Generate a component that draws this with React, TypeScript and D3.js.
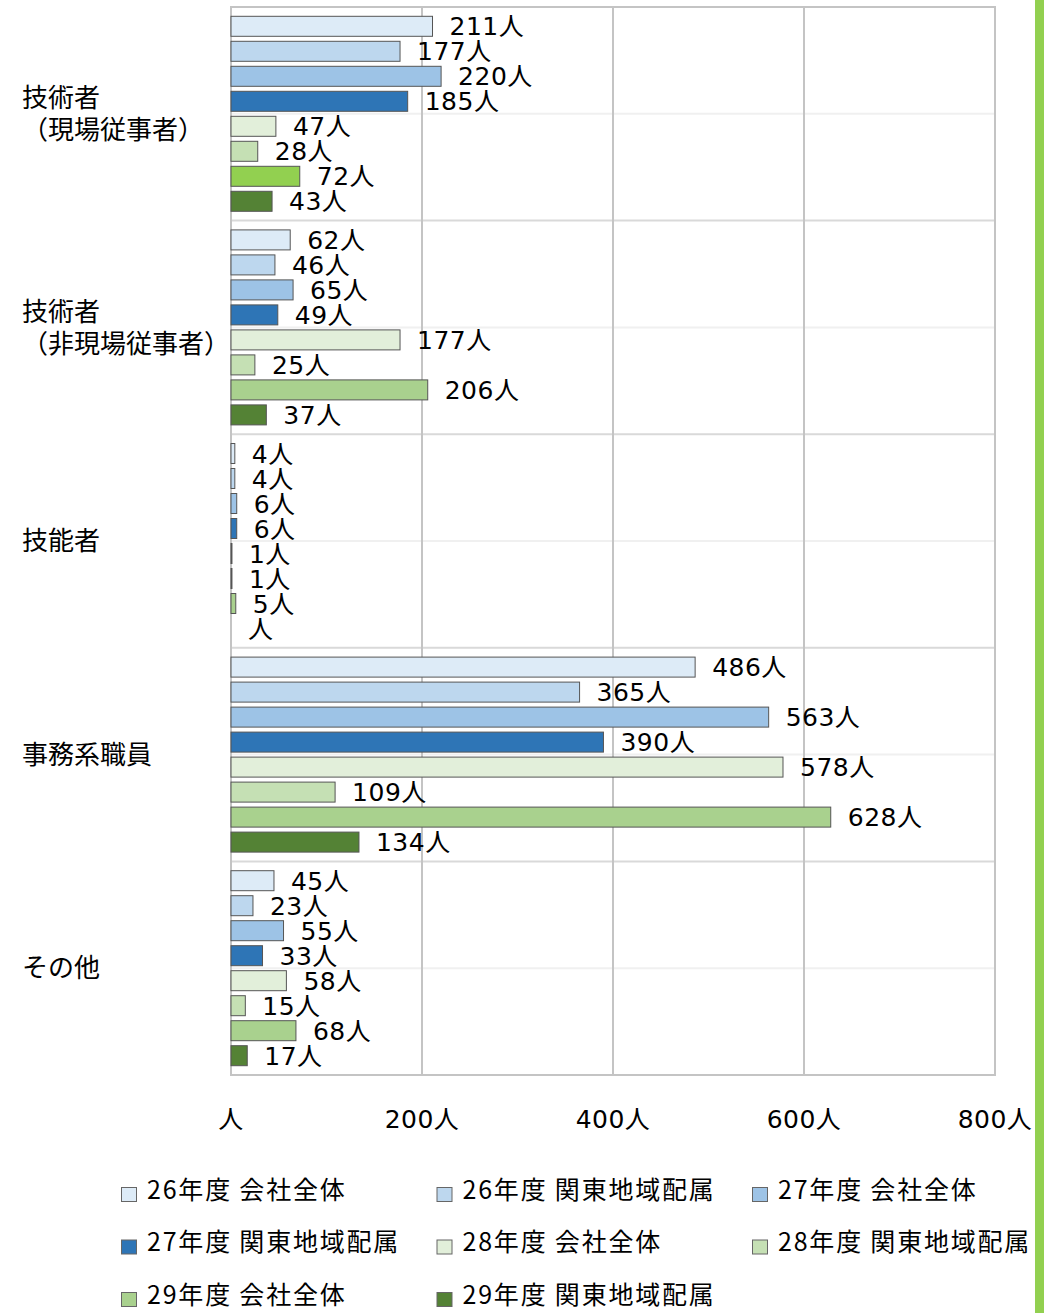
import React from "react";
import * as d3 from "d3";

const categories = [
  ["技術者", "（現場従事者）"],
  ["技術者", "（非現場従事者）"],
  ["技能者"],
  ["事務系職員"],
  ["その他"],
];

const seriesNames = [
  "26年度 会社全体",
  "26年度 関東地域配属",
  "27年度 会社全体",
  "27年度 関東地域配属",
  "28年度 会社全体",
  "28年度 関東地域配属",
  "29年度 会社全体",
  "29年度 関東地域配属",
];

const seriesColors = [
  "#ddebf7",
  "#bdd7ee",
  "#9dc3e6",
  "#2e75b6",
  "#e2efda",
  "#c5e0b4",
  "#a9d18e",
  "#548235",
];

// values[category][series]
const values: (number | null)[][] = [
  [211, 177, 220, 185, 47, 28, 72, 43],
  [62, 46, 65, 49, 177, 25, 206, 37],
  [4, 4, 6, 6, 1, 1, 5, null],
  [486, 365, 563, 390, 578, 109, 628, 134],
  [45, 23, 55, 33, 58, 15, 68, 17],
];

// individually highlighted point: [category, series, color]
const pointOverrides: [number, number, string][] = [[0, 6, "#92d050"]];

const xTicks = [0, 200, 400, 600, 800];

const W = 1053;
const H = 1313;
const M = { left: 231, right: 995, top: 7, bottom: 1075 };
const labelFont = "'DejaVu Sans', 'Noto Sans CJK JP', sans-serif";
const cjkFont = "'Noto Sans CJK JP', sans-serif";

export default function App() {
  const x = d3.scaleLinear().domain([0, 800]).range([M.left, M.right]);
  const catIdx = categories.map((_, i) => String(i));
  const y0 = d3.scaleBand().domain(catIdx).range([M.top, M.bottom]).padding(0);
  const step0 = y0.bandwidth();
  const y1 = d3
    .scaleBand()
    .domain(seriesNames)
    .range([0, step0])
    .paddingInner(0.2)
    .paddingOuter(0.372);

  const fmt = (v: number | null) => (v == null || v === 0 ? "人" : `${v}人`);
  const colorFor = (ci: number, si: number) => {
    const o = pointOverrides.find((p) => p[0] === ci && p[1] === si);
    return o ? o[2] : seriesColors[si];
  };

  const legendCols = 3;
  const legendX0 = 121;
  const legendColW = 315.5;
  const legendY0 = 1187;
  const legendRowH = 52.5;

  return (
    <svg
      width={W}
      height={H}
      style={{ position: "absolute", left: 0, top: 0, background: "#fff" }}
    >
      <rect x={0} y={0} width={W} height={H} fill="#fff" />
      {/* green stripe */}
      <rect x={1035} y={0} width={9} height={H} fill="#92d050" />

      {/* horizontal mid lines */}
      {catIdx.map((c) => (
        <line
          key={"mid" + c}
          x1={M.left}
          x2={M.right}
          y1={(y0(c) as number) + step0 / 2}
          y2={(y0(c) as number) + step0 / 2}
          stroke="#f0f0f0"
          strokeWidth={2}
        />
      ))}
      {/* category separators */}
      {catIdx.slice(1).map((c) => (
        <line
          key={"sep" + c}
          x1={M.left}
          x2={M.right}
          y1={y0(c) as number}
          y2={y0(c) as number}
          stroke="#d9d9d9"
          strokeWidth={2}
        />
      ))}
      {/* vertical gridlines */}
      {xTicks.slice(1, -1).map((t) => (
        <line
          key={"g" + t}
          x1={x(t)}
          x2={x(t)}
          y1={M.top}
          y2={M.bottom}
          stroke="#c4c4c4"
          strokeWidth={2}
        />
      ))}
      {/* frame */}
      <rect
        x={M.left}
        y={M.top}
        width={M.right - M.left}
        height={M.bottom - M.top}
        fill="none"
        stroke="#c4c4c4"
        strokeWidth={2}
      />

      {/* bars */}
      {values.map((row, ci) =>
        row.map((v, si) => {
          const yy = (y0(String(ci)) as number) + (y1(seriesNames[si]) as number);
          const bh = y1.bandwidth();
          const w = v == null ? 0 : x(v) - x(0);
          return (
            <g key={ci + "-" + si}>
              {v != null && (
                <rect
                  x={x(0)}
                  y={yy}
                  width={w}
                  height={bh}
                  fill={colorFor(ci, si)}
                  stroke="#555"
                  strokeWidth={1}
                />
              )}
              <text
                x={x(v ?? 0) + 17}
                y={yy + bh / 2}
                dy="0.36em"
                fontFamily={labelFont}
                fontSize={25}
                letterSpacing={0.5}
                fill="#000"
              >
                {fmt(v)}
              </text>
            </g>
          );
        })
      )}

      {/* category labels */}
      {categories.map((lines, ci) => {
        const cy = (y0(String(ci)) as number) + step0 / 2;
        const lh = 32;
        return (
          <text
            key={"cat" + ci}
            x={22}
            fontFamily={cjkFont}
            fontSize={26}
            fill="#000"
          >
            {lines.map((l, li) => (
              <tspan
                key={li}
                x={22}
                y={cy + (li - (lines.length - 1) / 2) * lh}
                dy="0.35em"
              >
                {l}
              </tspan>
            ))}
          </text>
        );
      })}

      {/* x tick labels */}
      {xTicks.map((t) => (
        <text
          key={"t" + t}
          x={x(t)}
          y={1119}
          dy="0.36em"
          textAnchor="middle"
          fontFamily={labelFont}
          fontSize={25}
          letterSpacing={0.5}
          fill="#000"
        >
          {fmt(t)}
        </text>
      ))}

      {/* legend */}
      {seriesNames.map((s, i) => {
        const col = i % legendCols;
        const row = Math.floor(i / legendCols);
        const lx = legendX0 + col * legendColW;
        const ly = legendY0 + row * legendRowH;
        return (
          <g key={"lg" + i}>
            <rect
              x={lx + 0.5}
              y={ly + 0.5}
              width={15}
              height={14}
              fill={seriesColors[i]}
              stroke="#666"
              strokeWidth={1}
            />
            <text
              x={lx + 26}
              y={ly + 3}
              dy="0.35em"
              fontFamily={cjkFont}
              fontSize={25}
              letterSpacing={1.8}
              fill="#000"
            >
              {s}
            </text>
          </g>
        );
      })}
    </svg>
  );
}
